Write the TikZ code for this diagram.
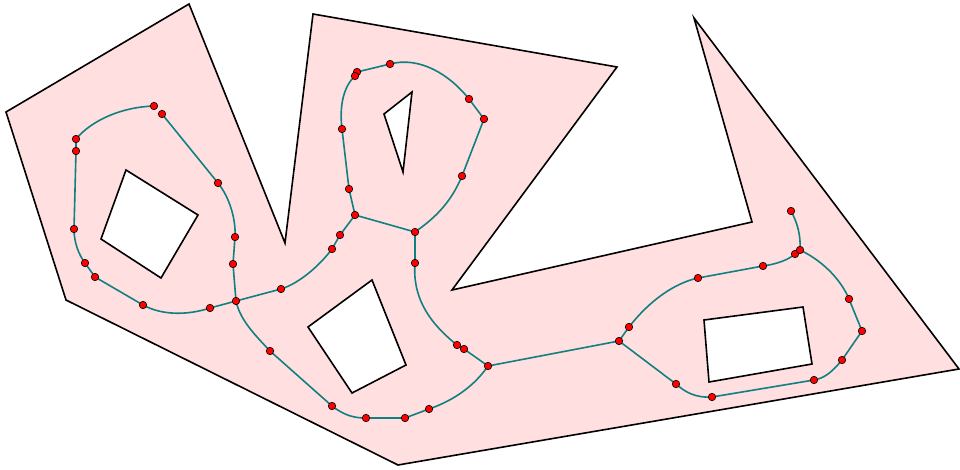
\documentclass[tikz,border=0pt]{standalone}
\definecolor{pinkfill}{RGB}{255,223,224}
\definecolor{tealc}{RGB}{16,128,128}
\begin{document}
\begin{tikzpicture}[x=1pt,y=-1pt,
  region/.style={fill=pinkfill,draw=black,line width=1.6pt,line join=miter,even odd rule},
  wire/.style={draw=tealc,line width=1.6pt,line join=round},
  dot/.style={circle,fill=red,draw=black,line width=0.6pt,inner sep=0pt,minimum size=7.5pt}]
\useasboundingbox (0,0) rectangle (960,470);
% region with holes
\path[region]
  (6,112) -- (189,4) -- (285,243) -- (313,14) -- (617,67) -- (452,290) -- (752,222) -- (694,18) -- (959,369) -- (398,465) -- (66,300) -- cycle
  (126,170) -- (198,215) -- (161,278) -- (101,239) -- cycle
  (384,114) -- (412,92) -- (403,172) -- cycle
  (308,327) -- (372,280) -- (406,365) -- (352,393) -- cycle
  (704,320) -- (803,307) -- (812,364) -- (709,382) -- cycle;
% points
\coordinate (a1) at (154,106); \coordinate (a2) at (162,114); \coordinate (a3) at (218,183);
\coordinate (a4) at (235,237); \coordinate (a5) at (233,264); \coordinate (a6) at (236,301);
\coordinate (a7) at (281,289); \coordinate (a8) at (210,308); \coordinate (a9) at (143,305);
\coordinate (a10) at (95,277); \coordinate (a11) at (85,263); \coordinate (a12) at (74,229);
\coordinate (a13) at (76,151); \coordinate (a14) at (76,139);
\coordinate (b1) at (357,72); \coordinate (b2) at (355,76); \coordinate (b3) at (390,64);
\coordinate (b4) at (469,99); \coordinate (b5) at (484,119); \coordinate (b6) at (462,176);
\coordinate (b7) at (415,232); \coordinate (b8) at (415,263); \coordinate (b9) at (355,215);
\coordinate (b10) at (340,235); \coordinate (b11) at (332,249); \coordinate (b12) at (349,189);
\coordinate (b13) at (342,129);
\coordinate (c1) at (457,345); \coordinate (c2) at (464,349); \coordinate (c3) at (488,366);
\coordinate (c4) at (429,409); \coordinate (c5) at (405,418); \coordinate (c6) at (366,418);
\coordinate (c7) at (332,406); \coordinate (c8) at (270,351);
\coordinate (d1) at (619,341); \coordinate (d2) at (629,327); \coordinate (d3) at (698,278);
\coordinate (d4) at (763,266); \coordinate (d5) at (795,254); \coordinate (d6) at (800,250);
\coordinate (d7) at (791,211); \coordinate (d8) at (849,299); \coordinate (d9) at (862,331);
\coordinate (d10) at (842,360); \coordinate (d11) at (814,380); \coordinate (d12) at (712,397);
\coordinate (d13) at (676,384);
% wires: left loop
\draw[wire] (a1) .. controls (122,107) and (92,120) .. (a14) -- (a13) -- (a12)
  .. controls (74,243) and (79,255) .. (a11) -- (a10) -- (a9)
  .. controls (165,317) and (192,314) .. (a8) -- (a6) -- (a7)
  .. controls (300,283) and (320,265) .. (b11) -- (b10) -- (b9);
\draw[wire] (a2) -- (a3) .. controls (230,198) and (236,220) .. (a4) -- (a5) -- (a6)
  .. controls (240,320) and (255,335) .. (c8) -- (c7)
  .. controls (345,416) and (355,418) .. (c6) -- (c5) -- (c4)
  .. controls (455,400) and (475,385) .. (c3);
% middle loop
\draw[wire] (b9) -- (b12) -- (b13) .. controls (339,105) and (344,86) .. (b2) -- (b1) -- (b3)
  .. controls (420,56) and (450,75) .. (b4) -- (b5) -- (b6)
  .. controls (450,205) and (432,220) .. (b7);
\draw[wire] (b9) -- (b7) -- (b8) .. controls (412,300) and (432,325) .. (c1) -- (c2) -- (c3) -- (d1);
% right loop
\draw[wire] (d1) -- (d2) .. controls (650,300) and (675,283) .. (d3) -- (d4)
  .. controls (777,264) and (788,260) .. (d5) -- (d6)
  .. controls (825,262) and (842,282) .. (d8) -- (d9) -- (d10)
  .. controls (832,372) and (825,378) .. (d11) -- (d12)
  .. controls (695,398) and (685,392) .. (d13) -- (d1);
\draw[wire] (d7) .. controls (797,222) and (801,235) .. (d6);
% dots
\foreach \p in {a1,a2,a3,a4,a5,a6,a7,a8,a9,a10,a11,a12,a13,a14,
  b1,b2,b3,b4,b5,b6,b7,b8,b9,b10,b11,b12,b13,
  c1,c2,c3,c4,c5,c6,c7,c8,
  d1,d2,d3,d4,d5,d6,d7,d8,d9,d10,d11,d12,d13}
  \node[dot] (n\p) at (\p) {};
\end{tikzpicture}
\end{document}
